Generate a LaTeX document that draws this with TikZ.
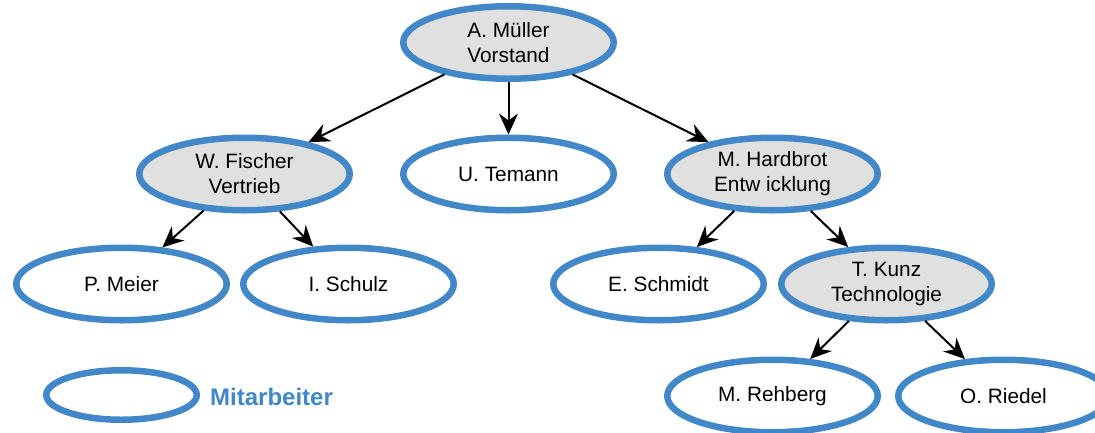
\documentclass[tikz,border=0pt]{standalone}
\usepackage{fontspec}
\setmainfont{Liberation Sans}
\usetikzlibrary{shapes.geometric,arrows.meta}
\definecolor{eblue}{RGB}{66,135,199}
\definecolor{egray}{RGB}{224,224,224}
\begin{document}
\begin{tikzpicture}[x=1pt,y=-1pt,
  person/.style={ellipse,draw=eblue,line width=6.5pt,fill=white,
    minimum width=210.5pt,minimum height=72.5pt,inner sep=0pt,align=center,
    font=\fontsize{20.8}{25}\selectfont},
  lead/.style={person,fill=egray},
  conn/.style={line width=2pt,-{Stealth[length=21pt,width=19pt,inset=7pt]}}]
\useasboundingbox (0,0) rectangle (1095,432);
\node[lead] (mueller) at (508.5,42.5) {A. Müller\\Vorstand};
\node[lead] (fischer) at (244.5,174) {W. Fischer\\Vertrieb};
\node[person] (temann) at (508.5,174) {U. Temann};
\node[lead] (hardbrot) at (772.5,174) {M. Hardbrot\\Entw icklung};
\node[person] (meier) at (121.5,284) {P. Meier};
\node[person] (schulz) at (348.5,284) {I. Schulz};
\node[person] (schmidt) at (658.5,284) {E. Schmidt};
\node[lead] (kunz) at (886.5,284) {T. Kunz\\Technologie};
\node[person] (rehberg) at (772.5,396) {M. Rehberg};
\node[person] (riedel) at (1003.5,396) {O. Riedel};
\node[person,minimum width=150.5pt,minimum height=49.5pt] (legend) at (121.5,395) {};
\node[anchor=west,inner sep=0pt,text=eblue,font=\fontsize{24}{28}\selectfont\bfseries] (legtext) at (210,397) {Mitarbeiter};
\draw[conn] (mueller) -- (fischer);
\draw[conn] (mueller) -- (temann);
\draw[conn] (mueller) -- (hardbrot);
\draw[conn] (fischer) -- (meier);
\draw[conn] (fischer) -- (schulz);
\draw[conn] (hardbrot) -- (schmidt);
\draw[conn] (hardbrot) -- (kunz);
\draw[conn] (kunz) -- (rehberg);
\draw[conn] (kunz) -- (riedel);
\end{tikzpicture}
\end{document}
